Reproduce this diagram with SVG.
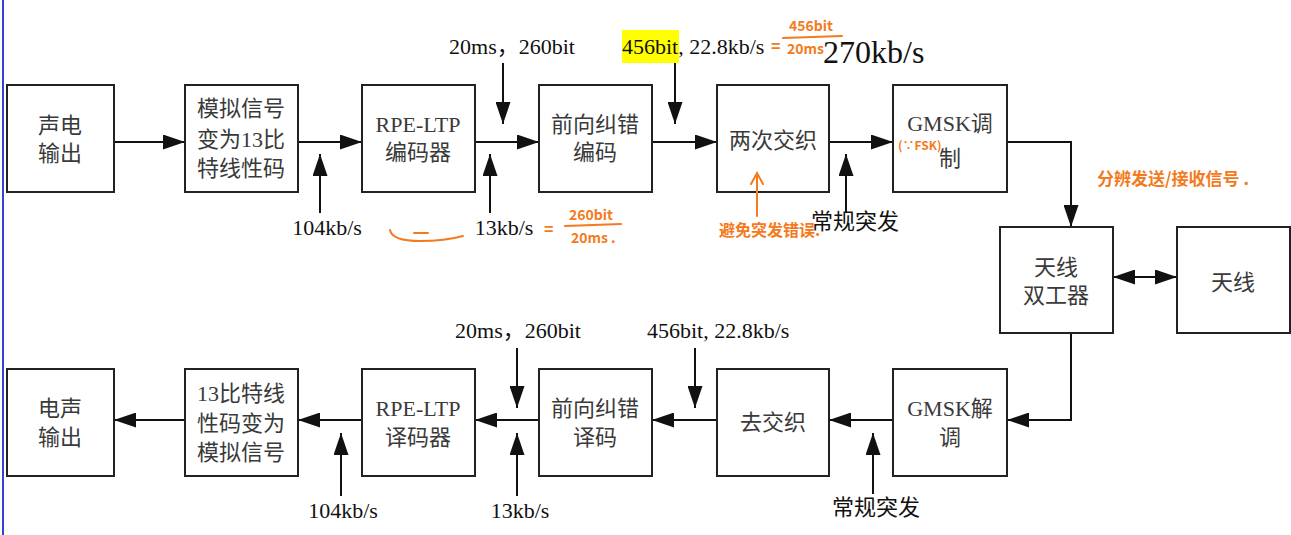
<svg xmlns="http://www.w3.org/2000/svg" width="1291" height="535" viewBox="0 0 1291 535">
<style>
.box{fill:#fff;stroke:#222;stroke-width:2}
.bt{font-family:"Liberation Serif","Noto Sans CJK SC",serif;font-size:22px;fill:#3a3a3a;text-anchor:middle}
.lb{font-family:"Liberation Serif","Noto Sans CJK SC",serif;font-size:22px;fill:#111}
.big{font-size:32px}
.ln{fill:none;stroke:#111;stroke-width:2}
.hw{font-family:"Noto Sans CJK SC",sans-serif;fill:#f47a20;font-weight:bold}
.hl{fill:none;stroke:#f47a20;stroke-width:2;stroke-linecap:round}
</style>
<defs>
<marker id="ah" viewBox="0 0 22 15" refX="22" refY="7.5" markerWidth="22" markerHeight="15" markerUnits="userSpaceOnUse" orient="auto-start-reverse"><path d="M0,0 L22,7.5 L0,15 z" fill="#111"/></marker>
</defs>
<rect width="1291" height="535" fill="#fff"/>
<line x1="3" y1="0" x2="3" y2="535" stroke="#3344cc" stroke-width="2"/>
<rect x="622" y="30" width="57" height="33" fill="#ffff00"/>

<g id="connectors">
<line class="ln" x1="114" y1="142" x2="185" y2="142" marker-end="url(#ah)"/>
<line class="ln" x1="298" y1="142" x2="362" y2="142" marker-end="url(#ah)"/>
<line class="ln" x1="475" y1="142" x2="539" y2="142" marker-end="url(#ah)"/>
<line class="ln" x1="652" y1="142" x2="717" y2="142" marker-end="url(#ah)"/>
<line class="ln" x1="829" y1="142" x2="893" y2="142" marker-end="url(#ah)"/>
<polyline class="ln" points="1007,142 1071,142 1071,227" marker-end="url(#ah)"/>
<line class="ln" x1="1113" y1="277" x2="1177" y2="277" marker-start="url(#ah)" marker-end="url(#ah)"/>
<polyline class="ln" points="1071,333 1071,420 1007,420" marker-end="url(#ah)"/>
<line class="ln" x1="893" y1="420" x2="829" y2="420" marker-end="url(#ah)"/>
<line class="ln" x1="717" y1="420" x2="652" y2="420" marker-end="url(#ah)"/>
<line class="ln" x1="539" y1="420" x2="475" y2="420" marker-end="url(#ah)"/>
<line class="ln" x1="362" y1="420" x2="298" y2="420" marker-end="url(#ah)"/>
<line class="ln" x1="185" y1="420" x2="114" y2="420" marker-end="url(#ah)"/>
<line class="ln" x1="320" y1="213" x2="320" y2="154" marker-end="url(#ah)"/>
<line class="ln" x1="490" y1="213" x2="490" y2="154" marker-end="url(#ah)"/>
<line class="ln" x1="503" y1="63" x2="503" y2="124" marker-end="url(#ah)"/>
<line class="ln" x1="675" y1="63" x2="675" y2="124" marker-end="url(#ah)"/>
<line class="ln" x1="846" y1="212" x2="846" y2="154" marker-end="url(#ah)"/>
<line class="ln" x1="341" y1="496" x2="341" y2="433" marker-end="url(#ah)"/>
<line class="ln" x1="517" y1="496" x2="517" y2="433" marker-end="url(#ah)"/>
<line class="ln" x1="517" y1="348" x2="517" y2="408" marker-end="url(#ah)"/>
<line class="ln" x1="695" y1="348" x2="695" y2="408" marker-end="url(#ah)"/>
<line class="ln" x1="873" y1="494" x2="873" y2="433" marker-end="url(#ah)"/>
</g>

<g id="n1"><rect class="box" x="7" y="85" width="107" height="107"/><text class="bt" x="60" y="133">声电</text><text class="bt" x="60" y="161">输出</text></g>
<g id="n2"><rect class="box" x="185" y="85" width="113" height="107"/><text class="bt" x="241" y="116">模拟信号</text><text class="bt" x="241" y="147">变为13比</text><text class="bt" x="241" y="176">特线性码</text></g>
<g id="n3"><rect class="box" x="362" y="85" width="113" height="107"/><text class="bt" x="418" y="132">RPE-LTP</text><text class="bt" x="418" y="160">编码器</text></g>
<g id="n4"><rect class="box" x="539" y="85" width="113" height="107"/><text class="bt" x="595" y="132">前向纠错</text><text class="bt" x="595" y="160">编码</text></g>
<g id="n5"><rect class="box" x="717" y="85" width="112" height="107"/><text class="bt" x="773" y="148">两次交织</text></g>
<g id="n6"><rect class="box" x="893" y="85" width="114" height="107"/><text class="bt" x="950" y="131">GMSK调</text><text class="bt" x="950" y="166">制</text></g>
<g id="n7"><rect class="box" x="1000" y="227" width="113" height="106"/><text class="bt" x="1056" y="275">天线</text><text class="bt" x="1056" y="303">双工器</text></g>
<g id="n8"><rect class="box" x="1177" y="227" width="113" height="106"/><text class="bt" x="1233" y="290">天线</text></g>
<g id="n9"><rect class="box" x="893" y="369" width="114" height="107"/><text class="bt" x="950" y="416">GMSK解</text><text class="bt" x="950" y="445">调</text></g>
<g id="n10"><rect class="box" x="717" y="369" width="112" height="107"/><text class="bt" x="773" y="430">去交织</text></g>
<g id="n11"><rect class="box" x="539" y="369" width="113" height="107"/><text class="bt" x="595" y="416">前向纠错</text><text class="bt" x="595" y="445">译码</text></g>
<g id="n12"><rect class="box" x="362" y="369" width="113" height="107"/><text class="bt" x="418" y="416">RPE-LTP</text><text class="bt" x="418" y="445">译码器</text></g>
<g id="n13"><rect class="box" x="185" y="369" width="113" height="107"/><text class="bt" x="241" y="401">13比特线</text><text class="bt" x="241" y="431">性码变为</text><text class="bt" x="241" y="460">模拟信号</text></g>
<g id="n14"><rect class="box" x="7" y="369" width="107" height="107"/><text class="bt" x="60" y="416">电声</text><text class="bt" x="60" y="445">输出</text></g>

<g id="labels">
<text class="lb" x="512" y="54" text-anchor="middle">20ms，260bit</text>
<text class="lb" x="622" y="54">456bit, 22.8kb/s</text>
<text class="lb big" x="823" y="63">270kb/s</text>
<text class="lb" x="327" y="235" text-anchor="middle">104kb/s</text>
<text class="lb" x="504" y="235" text-anchor="middle">13kb/s</text>
<text class="lb" x="855" y="229" text-anchor="middle">常规突发</text>
<text class="lb" x="518" y="338" text-anchor="middle">20ms，260bit</text>
<text class="lb" x="647" y="338">456bit, 22.8kb/s</text>
<text class="lb" x="343" y="518" text-anchor="middle">104kb/s</text>
<text class="lb" x="520" y="518" text-anchor="middle">13kb/s</text>
<text class="lb" x="876" y="515" text-anchor="middle">常规突发</text>
</g>

<g id="handwriting">
<text class="hw" x="771" y="52" font-size="16">=</text>
<text class="hw" x="789" y="31" font-size="14">456bit</text>
<path class="hl" d="M783,38 L842,36"/>
<text class="hw" x="787" y="54" font-size="14">20ms</text>
<text class="hw" x="898" y="150" font-size="12">(∵FSK)</text>
<text class="hw" x="1097" y="185" font-size="17">分辨发送/接收信号 .</text>
<path class="hl" d="M390,230 Q392,241 420,241 Q445,241 463,236"/>
<path class="hl" d="M414,233 L428,233"/>
<text class="hw" x="544" y="235" font-size="16">=</text>
<text class="hw" x="569" y="220" font-size="14">260bit</text>
<path class="hl" d="M565,226 L621,224"/>
<text class="hw" x="571" y="243" font-size="14">20ms .</text>
<path class="hl" d="M757,216 L757,174 M751,184 L757,173 L763,184"/>
<text class="hw" x="719" y="236" font-size="16">避免突发错误.</text>
</g>
</svg>
